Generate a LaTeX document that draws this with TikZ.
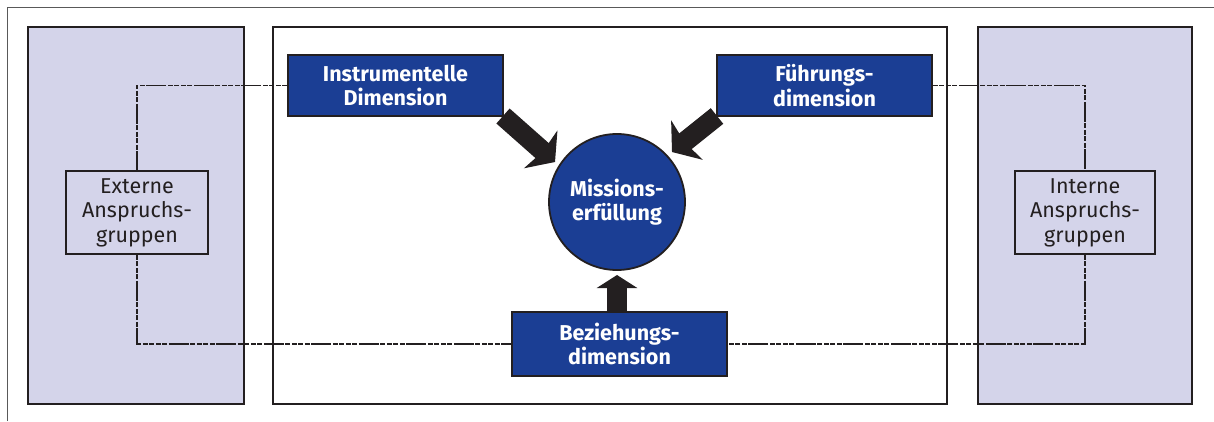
\documentclass[tikz,border=0pt]{standalone}
\usepackage{fontspec}
\setmainfont{Fira Sans}
\usetikzlibrary{arrows.meta}
\definecolor{dblue}{RGB}{27,62,148}
\definecolor{lav}{RGB}{212,212,234}
\definecolor{ink}{RGB}{35,31,32}
\tikzset{
  panel/.style={draw=ink,line width=1.8pt},
  bluebox/.style={draw=ink,line width=1.8pt,fill=dblue,text=white,font=\fontsize{21.5}{24.5}\selectfont\bfseries,
    align=center,inner sep=0pt,minimum width=215pt,minimum height=61pt},
  graybox/.style={draw=ink,line width=1.8pt,fill=lav,text=ink,font=\fontsize{21.5}{24.5}\selectfont,
    align=center,inner sep=0pt,minimum width=142pt,minimum height=83pt},
  conn/.style={draw=ink,line width=1.7pt,dash pattern=on 5pt off 1.5pt on 5pt off 1.5pt on 5pt off 1.5pt on 5pt off 1.5pt on 20pt off 1.5pt},
  bigarrow/.style={draw=ink,line width=20pt,-{Stealth[width=50pt,length=19pt,inset=3pt]}}
}
\begin{document}
\begin{tikzpicture}[x=1pt,y=-1pt]
\useasboundingbox (0,0) rectangle (1214,421);
% outer frame
\draw[gray!70!black,line width=1pt] (7,421) -- (7,7) -- (1214,7);
% panels
\draw[panel,fill=lav] (28,27) rectangle (244,404);
\draw[panel,fill=white] (273,27) rectangle (947,404);
\draw[panel,fill=lav] (978,27) rectangle (1192,404);
% nodes
\node[circle,draw=ink,line width=1.8pt,fill=dblue,text=white,minimum size=136pt,inner sep=0pt,
  font=\fontsize{21.5}{24.5}\selectfont\bfseries,align=center] (miss) at (617,202) {Missions-\\erfüllung};
\coordinate (tipL) at (555,162);
\coordinate (tipR) at (672,152);
\coordinate (tipB) at (617,275);
\coordinate (tailL) at (503,116);
\coordinate (tailR) at (717,116);
\coordinate (tailB) at (617,312);
\draw[bigarrow] (tailL) -- (tipL);
\draw[bigarrow] (tailR) -- (tipR);
\draw[bigarrow,-{Stealth[width=40pt,length=13pt,inset=0pt]}] (tailB) -- (tipB);
\node[bluebox] (instr) at (395.5,85.5) {Instrumentelle\\Dimension};
\node[bluebox] (fuehr) at (824.5,85.5) {Führungs-\\dimension};
\node[bluebox,minimum height=64pt] (bez) at (619.5,344) {Beziehungs-\\dimension};
\node[graybox] (ext) at (137,212.5) {Externe\\Anspruchs-\\gruppen};
\node[graybox,minimum width=140pt] (int) at (1085,212.5) {Interne\\Anspruchs-\\gruppen};
% connectors
\draw[conn] (instr.west) -| (ext.north);
\draw[conn] (ext.south) |- (bez.west);
\draw[conn] (fuehr.east) -| (int.north);
\draw[conn] (int.south) |- (bez.east);
\end{tikzpicture}
\end{document}
